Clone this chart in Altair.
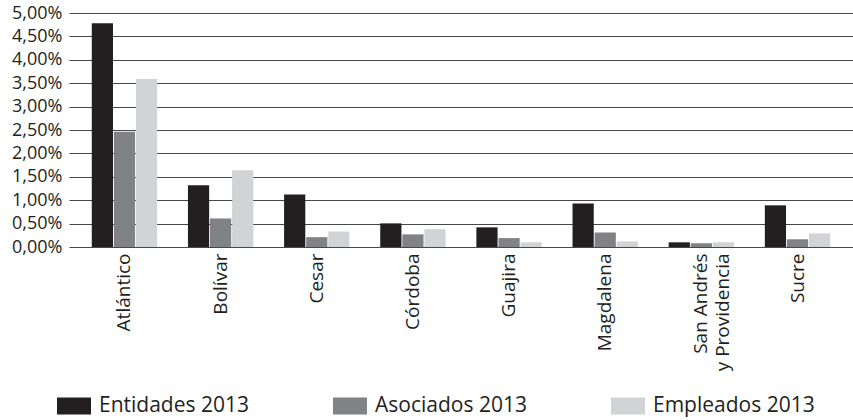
import altair as alt
import pandas as pd

# Departments of the Caribbean region and the three 2013 series (in percent)
regions = ["Atlántico", "Bolívar", "Cesar", "Córdoba", "Guajira",
           "Magdalena", "San Andrés y Providencia", "Sucre"]
series = ["Entidades 2013", "Asociados 2013", "Empleados 2013"]
entidades = [4.78, 1.32, 1.12, 0.505, 0.42, 0.93, 0.10, 0.89]
asociados = [2.46, 0.61, 0.21, 0.27, 0.19, 0.31, 0.08, 0.165]
empleados = [3.59, 1.64, 0.33, 0.38, 0.10, 0.12, 0.10, 0.29]
y_ticks = [0, 0.005, 0.01, 0.015, 0.02, 0.025, 0.03, 0.035, 0.04, 0.045, 0.05]

colors = ["#231f20", "#808285", "#d1d3d4"]
ink = "#231f20"
font = "Open Sans"

rows = []
for name, vals in zip(series, [entidades, asociados, empleados]):
    for region, v in zip(regions, vals):
        rows.append({"region": region, "serie": name, "valor": v / 100})
df = pd.DataFrame(rows)

label_expr = ("datum.value == 'San Andrés y Providencia' ? "
              "['San Andrés', 'y Providencia'] : datum.label")

chart = alt.Chart(df).mark_bar().encode(
    x=alt.X(
        "region:N", sort=regions,
        scale=alt.Scale(paddingInner=0.32, paddingOuter=0.237),
        axis=alt.Axis(title=None, labelAngle=270, ticks=False, domain=False,
                      grid=False, labelFont=font, labelFontSize=19,
                      labelColor=ink, labelPadding=6, labelLineHeight=22,
                      labelExpr=label_expr),
    ),
    xOffset=alt.XOffset("serie:N", sort=series,
                        scale=alt.Scale(paddingInner=0.04)),
    y=alt.Y(
        "valor:Q",
        scale=alt.Scale(domain=[0, 0.05], nice=False),
        axis=alt.Axis(title=None, values=y_ticks, domain=False, ticks=False,
                      grid=True, gridColor="#48484a", gridWidth=1,
                      labelFont=font, labelFontSize=18, labelColor=ink,
                      labelPadding=7,
                      labelExpr="replace(format(datum.value, '.2%'), '.', ',')"),
    ),
    color=alt.Color(
        "serie:N", sort=series,
        scale=alt.Scale(domain=series, range=colors),
        legend=alt.Legend(
            title=None, orient="none", legendX=-12, legendY=376,
            direction="horizontal", columns=3, columnPadding=84,
            symbolType="M-1,-0.5H1V0.5H-1Z", symbolSize=1156,
            symbolStrokeWidth=0, labelOffset=8, padding=0, labelLimit=300,
            labelFont=font, labelFontSize=21, labelColor=ink,
        ),
    ),
).properties(
    width=784, height=234,
    padding={"left": 69, "top": 13, "right": 0, "bottom": 173},
    autosize="none",
).configure_view(stroke=None)

chart.save("out.html", embed_options={"renderer": "svg", "actions": False})
